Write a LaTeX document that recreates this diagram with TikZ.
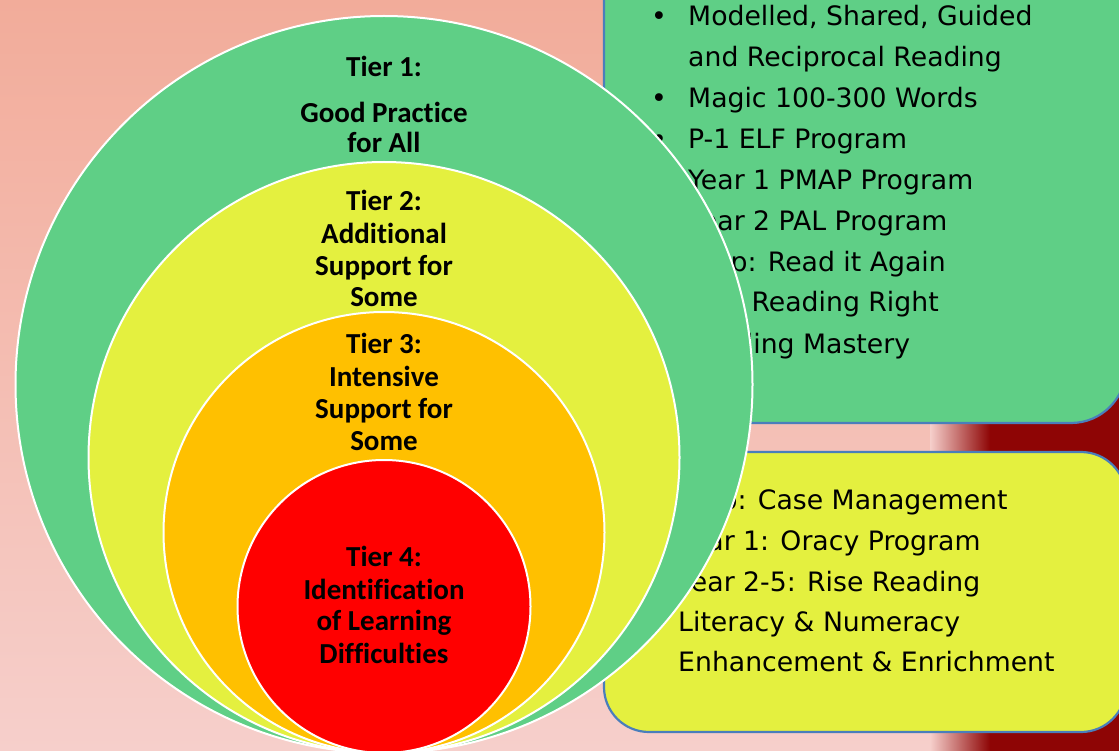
\documentclass[tikz,border=0pt]{standalone}
\usepackage{fontspec}
\newfontfamily\tierfont[Ligatures=NoCommon]{Carlito}
\newfontfamily\listfont{DejaVu Sans}
\definecolor{tiergreen}{HTML}{5FCF86}
\definecolor{tieryellow}{HTML}{E4F03F}
\definecolor{tierorange}{HTML}{FFC000}
\definecolor{tierred}{HTML}{FF0000}
\definecolor{boxblue}{HTML}{4A7EBB}
\definecolor{bgsalmon}{HTML}{F2AC9A}
\definecolor{bgpink}{HTML}{F6CFCB}
\definecolor{bgdark}{HTML}{8E0505}
\tikzset{
  ring/.style={draw=white, line width=2pt},
  listbox/.style={draw=boxblue, line width=2.2pt},
  tiertext/.style={font=\tierfont\bfseries\fontsize{29pt}{32pt}\selectfont, anchor=base, inner sep=0pt},
  listtext/.style={font=\listfont\fontsize{26.7pt}{41pt}\selectfont, anchor=base west, inner sep=0pt},
  listdot/.style={font=\listfont\fontsize{26.7pt}{41pt}\selectfont, anchor=base, inner sep=0pt},
}
\begin{document}
\begin{tikzpicture}[x=1pt,y=-1pt]
    \useasboundingbox (0,0) rectangle (1119,751);
    \clip (0,0) rectangle (1119,751);
    \shade[top color=bgsalmon, bottom color=bgpink] (0,0) rectangle (1119,751);
    \shade[left color=bgpink, right color=bgdark] (930,0) rectangle (990,751);
    \fill[bgdark] (990,0) rectangle (1119,751);

    \draw[listbox, fill=tiergreen, rounded corners=55pt] (604,-90) rectangle (1126,423);
    \foreach \y/\t [count=\i] in {26/{Modelled, Shared, Guided}, 108/Magic 100-300 Words, 149/P-1 ELF Program, 190/Year 1 PMAP Program, 231/Year 2 PAL Program, 272/Prep: Read it Again, 312/MSL Reading Right, 353/Spelling Mastery} {
        \node[listdot] (gdot-\i) at (659,\y) {\textbullet};
        \node[listtext] (gitem-\i) at (688,\y) {\t};
    }
    \node[listtext] (gitem-wrap) at (688,67) {and Reciprocal Reading};

    \draw[listbox, fill=tieryellow, rounded corners=45pt] (604,452) rectangle (1126,732);
    \foreach \y/\t [count=\i] in {509/Prep: Case Management, 550/Year 1: Oracy Program, 591/Year 2-5: Rise Reading, 631/Literacy \& Numeracy} {
        \node[listdot] (ydot-\i) at (649,\y) {\textbullet};
        \node[listtext] (yitem-\i) at (678,\y) {\t};
    }
    \node[listtext] (yitem-wrap) at (678,671) {Enhancement \& Enrichment};

    \draw[ring, fill=tiergreen] (384,384.5) circle (368.5pt);
    \draw[ring, fill=tieryellow] (384,457.5) circle (295.5pt);
    \draw[ring, fill=tierorange] (384,532.5) circle (220.5pt);
    \draw[ring, fill=tierred] (384,606.5) circle (146.5pt);

    \foreach \y/\t [count=\i] in {77/Tier 1:, 123/Good Practice, 153/for All, 211/Tier 2:, 244/Additional, 276/Support for, 307/Some, 353/Tier 3:, 386/Intensive, 418/Support for, 450/Some, 566/Tier 4:, 599/Identification, 630/of Learning, 663/Difficulties}
        \node[tiertext] (tier-\i) at (384,\y) {\t};
\end{tikzpicture}
\end{document}
